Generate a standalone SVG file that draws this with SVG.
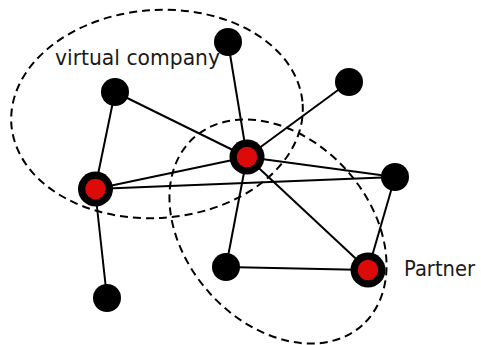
<svg xmlns="http://www.w3.org/2000/svg" width="481" height="345" viewBox="0 0 481 345">
<style>
.grp{fill:none;stroke:#000;stroke-width:2;stroke-dasharray:8 5}
.edge{stroke:#000;stroke-width:2;fill:none}
.node{fill:#000}
.core{fill:#dd0a0a}
.lbl{font-family:"DejaVu Sans",Verdana,sans-serif;font-size:21.5px;fill:#1a1a1a}
</style>
<rect width="481" height="345" fill="#fff"/>
<g id="groups">
<ellipse id="virtual-company-area" class="grp" cx="157" cy="114" rx="146" ry="104" transform="rotate(-4 157 114)"/>
<ellipse id="partner-area" class="grp" cx="278" cy="231.5" rx="126" ry="92" transform="rotate(48 278 231.5)"/>
</g>
<g id="connectors">
<line class="edge" x1="228" y1="42" x2="247" y2="157"/>
<line class="edge" x1="115" y1="92" x2="247" y2="157"/>
<line class="edge" x1="115" y1="92" x2="95" y2="189"/>
<line class="edge" x1="349" y1="82" x2="247" y2="157"/>
<line class="edge" x1="95" y1="189" x2="247" y2="157"/>
<line class="edge" x1="95" y1="189" x2="395" y2="177"/>
<line class="edge" x1="95" y1="189" x2="107" y2="298"/>
<line class="edge" x1="247" y1="157" x2="395" y2="177"/>
<line class="edge" x1="247" y1="157" x2="226" y2="267"/>
<line class="edge" x1="247" y1="157" x2="368" y2="270"/>
<line class="edge" x1="226" y1="267" x2="368" y2="270"/>
<line class="edge" x1="395" y1="177" x2="368" y2="270"/>
</g>
<g id="labels">
<text class="lbl" x="55" y="65" textLength="165" lengthAdjust="spacingAndGlyphs">virtual company</text>
<text class="lbl" x="404" y="276" textLength="71" lengthAdjust="spacingAndGlyphs">Partner</text>
</g>
<g id="n-top"><circle class="node" cx="228" cy="42" r="14"/></g>
<g id="n-upper-left"><circle class="node" cx="115" cy="92" r="14"/></g>
<g id="n-upper-right"><circle class="node" cx="349" cy="82" r="14"/></g>
<g id="n-right"><circle class="node" cx="395" cy="177" r="14"/></g>
<g id="n-bottom-mid"><circle class="node" cx="226" cy="267" r="14"/></g>
<g id="n-bottom-left"><circle class="node" cx="107" cy="298" r="14"/></g>
<g id="n-center"><circle class="node" cx="247" cy="157" r="17.5"/><circle class="core" cx="247" cy="157" r="10.3"/></g>
<g id="n-left"><circle class="node" cx="95.5" cy="189" r="17.5"/><circle class="core" cx="95.5" cy="189" r="10.3"/></g>
<g id="n-partner"><circle class="node" cx="368" cy="270" r="17.5"/><circle class="core" cx="368" cy="270" r="10.3"/></g>
</svg>
